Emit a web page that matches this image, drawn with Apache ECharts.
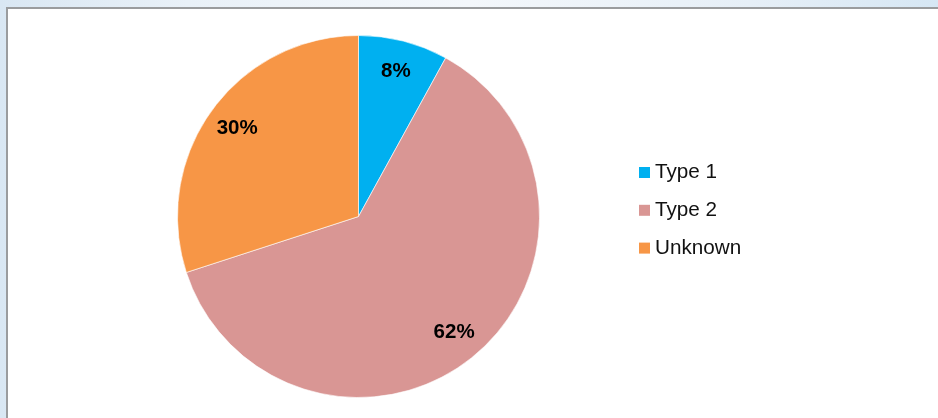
<!DOCTYPE html>
<html>
<head>
<meta charset="utf-8">
<script src="https://cdn.jsdelivr.net/npm/echarts@6/dist/echarts.min.js"></script>
<style>
  html, body { margin: 0; padding: 0; }
  body {
    width: 938px; height: 418px; overflow: hidden; position: relative;
    background: linear-gradient(90deg, #d9e7f3 0%, #e9f1f8 20%, #f3f7fb 50%, #e6eff7 80%, #d6e7f4 100%);
  }
  #frame {
    position: absolute; left: 6px; top: 7px; width: 940px; height: 420px;
    background: #ffffff; border-left: 2px solid #9a9c9e; border-top: 2px solid #9a9c9e;
    box-sizing: border-box;
  }
  #chart { position: absolute; left: 0; top: 0; width: 938px; height: 418px; }
</style>
</head>
<body>
<div id="frame"></div>
<div id="chart"></div>
<script>
// Share of cases by type
const categories = ['Type 1', 'Type 2', 'Unknown'];
const shares = [8, 62, 30];
const sliceColors = ['#00b0f0', '#d99694', '#f79646'];

const pieData = categories.map((name, i) => ({
  name: name,
  value: shares[i],
  itemStyle: { color: sliceColors[i] }
}));

const center = [358.5, 216.5];
const outerRadius = 181;

const chart = echarts.init(document.getElementById('chart'), null, { renderer: 'canvas' });
chart.setOption({
  animation: false,
  backgroundColor: 'transparent',
  textStyle: { fontFamily: '"Liberation Sans", Arial, sans-serif' },
  legend: {
    orient: 'vertical',
    left: 639,
    top: 162,
    padding: 0,
    itemWidth: 11,
    itemHeight: 11,
    itemGap: 16.8,
    icon: 'rect',
    data: categories,
    textStyle: {
      fontFamily: '"Liberation Sans", Arial, sans-serif',
      fontSize: 20.7,
      lineHeight: 20.5,
      color: '#111111',
      padding: [0, 0, 0, 0]
    },
    itemStyle: { borderWidth: 0 },
    selectedMode: false
  },
  series: [
    {
      // the slices themselves
      type: 'pie',
      center: center,
      radius: [0, outerRadius],
      startAngle: 90,
      clockwise: true,
      silent: true,
      label: { show: false },
      labelLine: { show: false },
      itemStyle: { borderColor: '#ffffff', borderWidth: 0.6 },
      data: pieData
    },
    {
      // transparent ring that places the percentage labels near the rim
      type: 'pie',
      center: center,
      radius: [113, outerRadius],
      startAngle: 90,
      clockwise: true,
      silent: true,
      itemStyle: { color: 'rgba(0,0,0,0)' },
      label: {
        show: true,
        position: 'inside',
        formatter: '{c}%',
        fontFamily: '"Liberation Sans", Arial, sans-serif',
        fontWeight: 'bold',
        fontSize: 20.5,
        color: '#000000'
      },
      labelLine: { show: false },
      data: categories.map((name, i) => ({ name: name, value: shares[i] }))
    }
  ]
});
</script>
</body>
</html>
